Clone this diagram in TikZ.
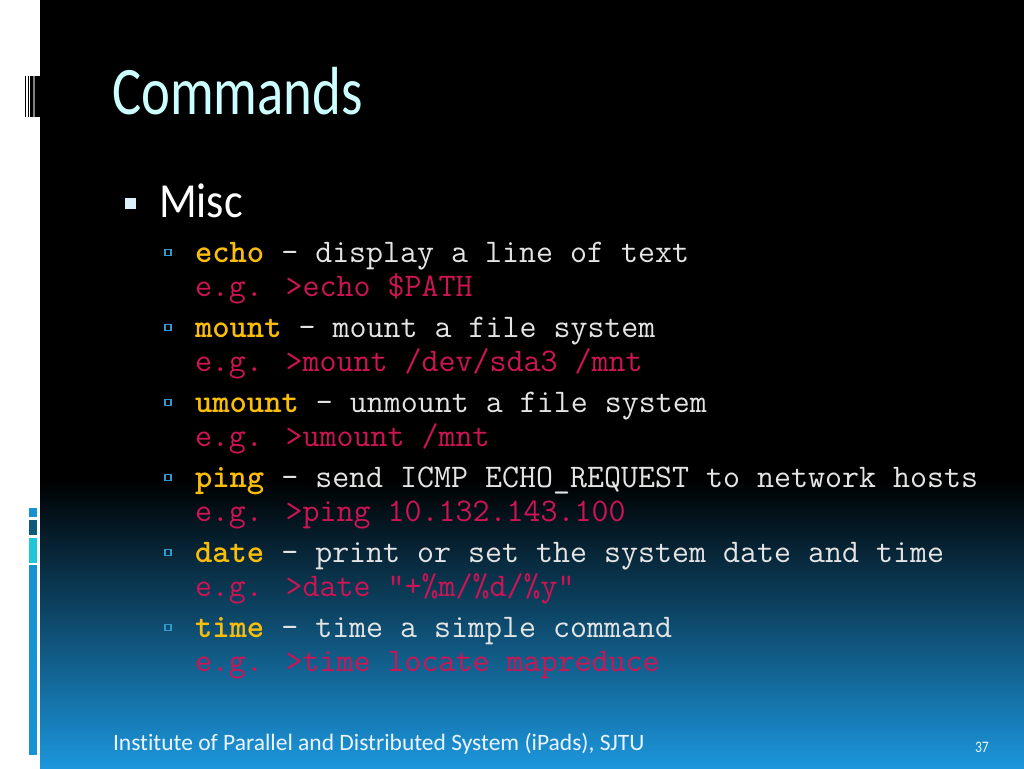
\documentclass[tikz,border=0pt]{standalone}
\usepackage{fontspec}
\usepackage{graphicx}
\newfontfamily\slidefont[Ligatures={NoCommon}]{Carlito}
\definecolor{bgblue}{RGB}{28,150,220}
\definecolor{titlecol}{RGB}{204,255,255}
\definecolor{goldcol}{RGB}{250,190,10}
\definecolor{desccol}{RGB}{228,228,228}
\definecolor{egcol}{RGB}{205,20,85}
\definecolor{bulletcol}{RGB}{51,153,204}
\definecolor{footcol}{RGB}{235,245,255}
\definecolor{barblue}{RGB}{22,146,210}
\definecolor{barteal}{RGB}{14,90,120}
\definecolor{barcyan}{RGB}{30,200,216}
\definecolor{misccol}{RGB}{220,240,250}
\tikzset{
  txt/.style={anchor=base west, inner sep=0pt, outer sep=0pt},
  codeline/.style={txt, font=\ttfamily\fontsize{33}{33}\selectfont},
  cmdtext/.style={codeline, text=desccol},
  egtext/.style={codeline, text=egcol},
  subbullet/.style={draw=bulletcol, line width=1.3pt},
}
\newcommand{\cmdname}[1]{\textcolor{goldcol}{\bfseries #1}}
\begin{document}
\begin{tikzpicture}[x=1pt,y=-1pt]
\useasboundingbox (0,0) rectangle (1024,768);
% background
\fill[white] (0,0) rectangle (40,768);
\fill[black] (40,0) rectangle (1024,480.5);
\shade[top color=black,bottom color=bgblue] (40,480) rectangle (1024,768);
% top-left stripes
\fill[black] (24.8,76) rectangle (25.8,117);
\fill[black] (27.5,76) rectangle (28.5,117);
\fill[black] (29.8,76) rectangle (33.2,117);
\fill[gray] (33.2,76) rectangle (34.8,117);
\fill[black] (34.8,76) rectangle (40,117);
% bottom-left bars
\fill[barblue] (28.5,508) rectangle (36.5,517);
\fill[barteal] (28.5,519.5) rectangle (36.5,534.5);
\fill[barcyan] (28.5,537.5) rectangle (36.5,562.5);
\fill[barblue] (28.5,565) rectangle (36.5,754.5);
% title
\node[txt, text=titlecol, font=\slidefont\fontsize{68}{68}\selectfont] (title) at (112,114) {\scalebox{0.805}[1]{Commands}};
% level-1 bullet
\fill[misccol] (125,198) rectangle (136,209);
\node[txt, text=white, font=\slidefont\fontsize{49}{49}\selectfont] (misc) at (159,217) {\scalebox{0.9}[1]{Misc}};
% items
\foreach \i in {0,...,5}{
  \draw[subbullet] (165,{249.5+75*\i}) rectangle (171,{255.5+75*\i});
}
\node[cmdtext] (echo) at (195,262) {\cmdname{echo} – display a line of text};
\node[egtext] (echoeg) at (195,296) {e.g. >echo \$PATH};
\node[cmdtext] (mount) at (195,337) {\cmdname{mount} – mount a file system};
\node[egtext] (mounteg) at (195,371) {e.g. >mount /dev/sda3 /mnt};
\node[cmdtext] (umount) at (195,412) {\cmdname{umount} – unmount a file system};
\node[egtext] (umounteg) at (195,446) {e.g. >umount /mnt};
\node[cmdtext] (ping) at (195,487) {\cmdname{ping} – send ICMP ECHO\_REQUEST to network hosts};
\node[egtext] (pingeg) at (195,521) {e.g. >ping 10.132.143.100};
\node[cmdtext] (date) at (195,562) {\cmdname{date} – print or set the system date and time};
\node[egtext] (dateeg) at (195,596) {e.g. >date "+\%m/\%d/\%y“};
\node[cmdtext] (time) at (195,637) {\cmdname{time} – time a simple command};
\node[egtext] (timeeg) at (195,671) {e.g. >time locate mapreduce};
% footer
\node[txt, text=footcol, font=\slidefont\fontsize{23.5}{23.5}\selectfont] (footer) at (113,750) {Institute of Parallel and Distributed System (iPads), SJTU};
\node[txt, text=footcol, font=\slidefont\fontsize{16}{16}\selectfont] (page) at (975,752) {\scalebox{0.85}[1]{37}};
\end{tikzpicture}
\end{document}
